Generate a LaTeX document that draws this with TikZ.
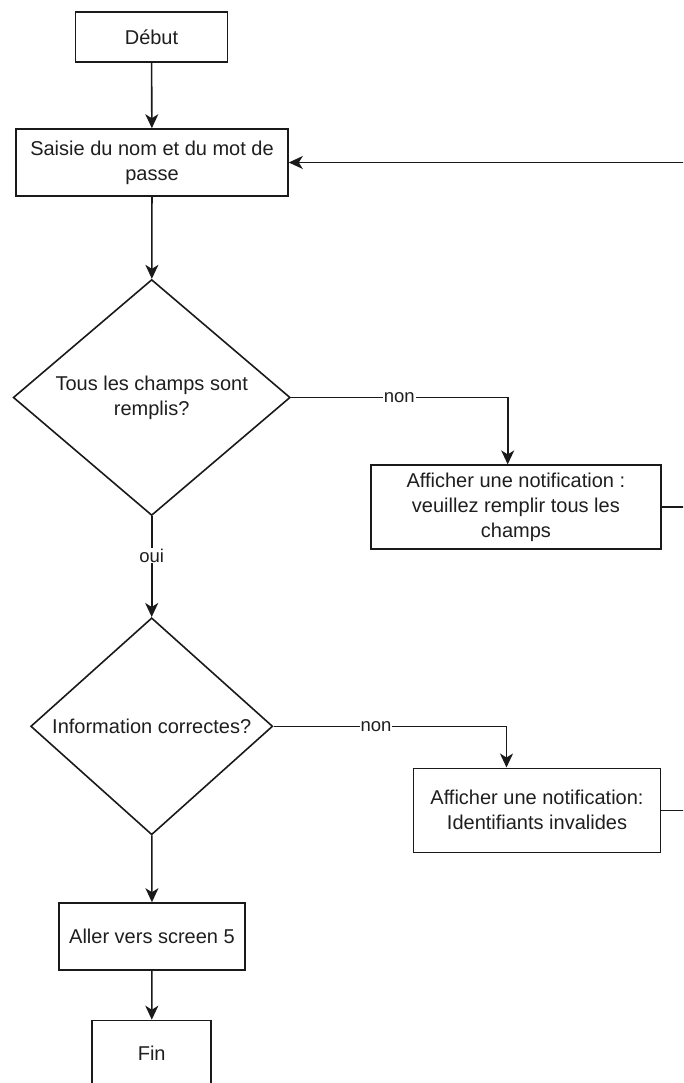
\documentclass[tikz,border=0pt]{standalone}
\usepackage{fontspec}
\setmainfont{Liberation Sans}
\usetikzlibrary{shapes.geometric,arrows.meta,calc}
\definecolor{ink}{HTML}{1A1A1A}
\definecolor{txt}{HTML}{1E1E1E}

\begin{document}
\begin{tikzpicture}[x=1pt,y=-1pt,
  box/.style={draw=ink, line width=1.6pt, rectangle, align=center, text=txt,
    font=\fontsize{20}{25}\selectfont, inner sep=0pt},
  cond/.style={draw=ink, line width=1.6pt, diamond, align=center, text=txt,
    font=\fontsize{20}{25}\selectfont, inner sep=0pt},
  lnk/.style={draw=ink, line width=1.6pt},
  arr/.style={lnk, -{Stealth[length=14pt,width=13pt,inset=4pt]}},
  lbl/.style={fill=white, text=txt, font=\fontsize{18.5}{22}\selectfont, inner sep=1pt}
]
\useasboundingbox (0,0) rectangle (683,1083);
\clip (0,0) rectangle (683,1083);

% main column
\node[box, minimum width=152pt, minimum height=50pt] (debut) at (151.5,37) {Début};
\node[box, minimum width=272pt, minimum height=67pt] (saisie) at (152,162.5)
  {Saisie du nom et du mot de\\passe};
\node[cond, minimum width=277pt, minimum height=234pt] (champs) at (151.7,397.5)
  {Tous les champs sont\\remplis?};
\node[cond, minimum width=242pt, minimum height=217pt] (correct) at (151.7,726.3)
  {Information correctes?};
\node[box, minimum width=186pt, minimum height=67pt] (aller) at (152,936.5)
  {Aller vers screen 5};
\node[box, minimum width=119pt, minimum height=65pt] (fin) at (151.7,1053) {Fin};

% notification column
\node[box, minimum width=290pt, minimum height=84pt] (notif1) at (515.9,507.2)
  {Afficher une notification :\\veuillez remplir tous les\\champs};
\node[box, minimum width=247pt, minimum height=84pt] (notif2) at (537,810.3)
  {Afficher une notification:\\Identifiants invalides};

% return rail, beyond the right border
\coordinate (rail) at (710,162.5);

% connectors
\draw[arr] (debut) -- (saisie);
\draw[arr] (saisie) -- (champs);
\draw[arr] (champs) -- node[lbl, pos=0.39] {oui} (correct);
\draw[arr] (correct) -- (aller);
\draw[arr] (aller) -- (fin);

\draw[arr] (champs.east) -| node[lbl, pos=0.25] {non} ([xshift=-8.2pt]notif1.north);
\draw[arr] (correct.east) -| node[lbl, pos=0.22] {non} ([xshift=-30.5pt]notif2.north);

\draw[arr] (notif1.east) -- (notif1.east -| rail) |- (saisie.east);
\draw[lnk] (notif2.east) -| (rail);
\end{tikzpicture}
\end{document}
